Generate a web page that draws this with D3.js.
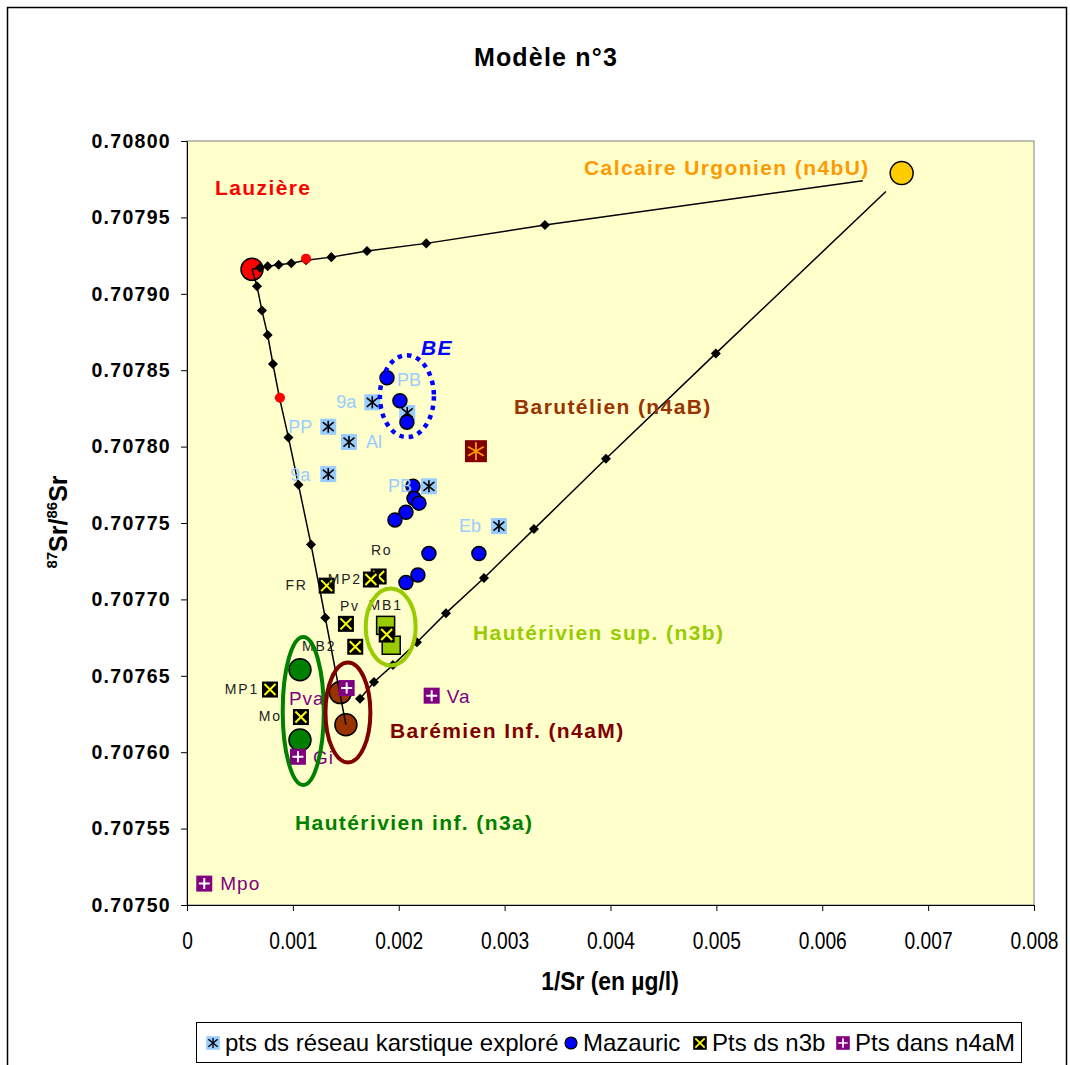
<!DOCTYPE html>
<html><head><meta charset="utf-8">
<script src="https://cdn.jsdelivr.net/npm/d3@7/dist/d3.min.js"></script>
<style>body{margin:0;background:#fff}</style>
</head><body>
<svg id="chart" width="1070" height="1065"></svg>
<script>
// ---------- DATA ----------
const xTickValues = [0,0.001,0.002,0.003,0.004,0.005,0.006,0.007,0.008];
const xTickLabels = ["0","0.001","0.002","0.003","0.004","0.005","0.006","0.007","0.008"];
const yTickValues = [0.7075,0.70755,0.7076,0.70765,0.7077,0.70775,0.7078,0.70785,0.7079,0.70795,0.708];
const yTickLabels = ["0.70750","0.70755","0.70760","0.70765","0.70770","0.70775","0.70780","0.70785","0.70790","0.70795","0.70800"];

// end members
const lauziere   = [[0.000614,0.707916]];
const urgonien   = [[0.00675,0.707979]];
const barutelien = [[0.002729,0.707797]];
const hautInf    = [[0.001067,0.707654],[0.001067,0.707608]];
const hautSup    = [[0.001876,0.707683],[0.001929,0.707670]];
const baremien   = [[0.001448,0.707639],[0.001501,0.707618]];
const redDots    = [[0.001124,0.707923],[0.000878,0.707832]];

// mixing lines
const mixLauzUrg = [[0.000614,0.707916],[0.000689,0.707917],[0.000762,0.707918],[0.000866,0.707919],[0.000985,0.707920],[0.001124,0.707922],[0.001363,0.707924],[0.001700,0.707928],[0.002260,0.707933],[0.003381,0.707945],[0.006383,0.707974]];
const mixLauzBar = [[0.000614,0.707916],[0.000661,0.707905],[0.000708,0.707889],[0.000762,0.707873],[0.000812,0.707854],[0.000873,0.707832],[0.000958,0.707806],[0.001053,0.707775],[0.001171,0.707736],[0.001306,0.707688],[0.001501,0.707618]];
const mixBarUrg  = [[0.001634,0.707635],[0.001766,0.707646],[0.001945,0.707657],[0.002172,0.707672],[0.002446,0.707691],[0.002805,0.707714],[0.003277,0.707746],[0.003957,0.707792],[0.004995,0.707861],[0.006601,0.707967]];

// samples
const karstNames = ["9a","","PP","Al","9a","PB","Eb"];
const karstX = [0.001750,0.002080,0.001334,0.001530,0.001334,0.002285,0.002946];
const karstY = [0.707829,0.707822,0.707813,0.707803,0.707782,0.707774,0.707748];

const mazX = [0.001889,0.002011,0.002077,0.002134,0.002144,0.002191,0.002068,0.001964,0.002285,0.002757,0.002181,0.002068];
const mazY = [0.707845,0.707830,0.707816,0.707774,0.707766,0.707763,0.707757,0.707752,0.707730,0.707730,0.707716,0.707711];
const mazNames = ["PB","","","","","","","","","","",""];

const n3bNames = ["Ro","MP2","FR","Pv","MB1","MB2","MP1","Mo"];
const n3bX = [0.001810,0.001737,0.001319,0.001501,0.001886,0.001589,0.000784,0.001076];
const n3bY = [0.707715,0.707713,0.707709,0.707684,0.707677,0.707669,0.707641,0.707623];

const n4aMNames = ["Pva","Va","Gi","Mpo"];
const n4aMX = [0.001508,0.002311,0.001048,0.000163];
const n4aMY = [0.707642,0.707637,0.707597,0.707514];

// enclosing ellipses [cx, cy, rx, ry] in data units
const ellipseBE      = [0.002077,0.707833,0.000255,0.0000268];
const ellipseHautSup = [0.001924,0.707682,0.000236,0.0000252];
const ellipseHautInf = [0.001098,0.707627,0.000194,0.0000484];
const ellipseBarem   = [0.001520,0.707626,0.000212,0.0000327];

const legendLabels = ["pts ds réseau karstique exploré","Mazauric","Pts ds n3b","Pts dans n4aM"];

// ---------- DRAW ----------
const svg = d3.select("#chart");
const ARIAL = "'Liberation Sans', Arial, sans-serif";
const L = 187, R = 1034, T = 141, B = 905;
const x = d3.scaleLinear().domain([0,0.008]).range([L,R]);
const y = d3.scaleLinear().domain([0.7075,0.708]).range([B,T]);

// outer frame
svg.append("rect").attr("x",7.5).attr("y",7.5).attr("width",1059).attr("height",1070)
  .attr("fill","#fff").attr("stroke","#000").attr("stroke-width",1.5);

// plot area
svg.append("rect").attr("x",L).attr("y",T).attr("width",R-L).attr("height",B-T)
  .attr("fill","#ffffcc").attr("stroke","#808080").attr("stroke-width",1);

// title
svg.append("text").attr("x",546).attr("y",66).attr("text-anchor","middle")
  .attr("font-family",ARIAL).attr("font-weight","bold").attr("font-size",25)
  .attr("letter-spacing",1.2).text("Modèle n°3");

// axes
const xAxis = d3.axisBottom(x).tickValues(xTickValues).tickFormat((d,i)=>xTickLabels[i]).tickSize(6).tickSizeOuter(0);
const gx = svg.append("g").attr("transform",`translate(0,${B})`).call(xAxis);
gx.attr("font-size",null).attr("font-family",null);
gx.selectAll("text").style("font-family",ARIAL).style("font-size","24px").attr("fill","#000")
  .attr("y",0).attr("dy",0).attr("transform","translate(0,44) scale(0.8,1)");
gx.select(".domain").attr("stroke","#000");

const yAxis = d3.axisLeft(y).tickValues(yTickValues).tickFormat((d,i)=>yTickLabels[i]).tickSize(6).tickSizeOuter(0);
const gy = svg.append("g").attr("transform",`translate(${L},0)`).call(yAxis);
gy.selectAll("text").attr("font-family",ARIAL).attr("font-weight","bold").attr("font-size",19.5)
  .attr("letter-spacing",1.3).attr("fill","#000").attr("x",-16);
gy.select(".domain").attr("stroke","#000");

// axis titles
svg.append("text").attr("text-anchor","middle")
  .attr("transform","translate(610,990) scale(0.88,1)")
  .attr("font-family",ARIAL).attr("font-weight","bold").attr("font-size",26).text("1/Sr (en µg/l)");
const yt = svg.append("text").attr("transform","translate(67,522) rotate(-90)").attr("text-anchor","middle")
  .attr("font-family",ARIAL).attr("font-weight","bold").attr("font-size",25);
yt.append("tspan").attr("font-size",15).attr("dy",-10).text("87");
yt.append("tspan").attr("dy",10).text("Sr/");
yt.append("tspan").attr("font-size",15).attr("dy",-10).text("86");
yt.append("tspan").attr("dy",10).text("Sr");

const plot = svg.append("g");

// end member circles
function circles(data, r, fill) {
  plot.selectAll(null).data(data).enter().append("circle")
    .attr("cx",d=>x(d[0])).attr("cy",d=>y(d[1])).attr("r",r)
    .attr("fill",fill).attr("stroke","#000").attr("stroke-width",1.5);
}
circles(lauziere,11,"#ff0000");
circles(urgonien,11.5,"#ffcc00");
circles(hautInf,11,"#008000");
circles(baremien,11,"#993300");

// mixing lines with diamonds
const line = d3.line().x(d=>x(d[0])).y(d=>y(d[1]));
function mixing(data, marks) {
  plot.append("path").datum(data).attr("d",line).attr("fill","none").attr("stroke","#000").attr("stroke-width",1.5);
  plot.selectAll(null).data(marks).enter().append("path")
    .attr("d",d3.symbol(d3.symbolDiamond2 || d3.symbolDiamond, 64)())
    .attr("transform",d=>`translate(${x(d[0])},${y(d[1])})`)
    .attr("fill","#000");
}
mixing(mixLauzUrg, mixLauzUrg.slice(1,-1));
mixing(mixLauzBar, mixLauzBar.slice(1,-1));
mixing(mixBarUrg, mixBarUrg.slice(0,-1));

// red dots
plot.selectAll(null).data(redDots).enter().append("circle")
  .attr("cx",d=>x(d[0])).attr("cy",d=>y(d[1])).attr("r",5).attr("fill","#ff0000");

// marker helpers
function starMarker(g, s, color, w) {
  g.append("line").attr("x1",0).attr("y1",-s).attr("x2",0).attr("y2",s).attr("stroke",color).attr("stroke-width",w);
  g.append("line").attr("x1",-s*0.87).attr("y1",-s*0.5).attr("x2",s*0.87).attr("y2",s*0.5).attr("stroke",color).attr("stroke-width",w);
  g.append("line").attr("x1",-s*0.87).attr("y1",s*0.5).attr("x2",s*0.87).attr("y2",-s*0.5).attr("stroke",color).attr("stroke-width",w);
}
function karstMarker(g) {
  g.append("rect").attr("x",-8).attr("y",-8).attr("width",16).attr("height",16).attr("fill","#99ccff");
  g.append("line").attr("x1",0).attr("y1",-6).attr("x2",0).attr("y2",6).attr("stroke","#000").attr("stroke-width",1.6);
  g.append("line").attr("x1",-5.5).attr("y1",-4.5).attr("x2",5.5).attr("y2",4.5).attr("stroke","#000").attr("stroke-width",1.6);
  g.append("line").attr("x1",-5.5).attr("y1",4.5).attr("x2",5.5).attr("y2",-4.5).attr("stroke","#000").attr("stroke-width",1.6);
}
function mazMarker(g) {
  g.append("circle").attr("r",7).attr("fill","#0000ff").attr("stroke","#000").attr("stroke-width",1.5);
}
function n3bMarker(g) {
  g.append("rect").attr("x",-8).attr("y",-8).attr("width",16).attr("height",16).attr("fill","#000");
  g.append("path").attr("d","M-5.5,-5.5L5.5,5.5M-5.5,5.5L5.5,-5.5").attr("stroke","#ffff00").attr("stroke-width",2);
}
function n4aMMarker(g) {
  g.append("rect").attr("x",-8).attr("y",-8).attr("width",16).attr("height",16).attr("fill","#800080");
  g.append("path").attr("d","M0,-5.5V5.5M-5.5,0H5.5").attr("stroke","#ffffff").attr("stroke-width",2);
}

// karst points
karstX.forEach((vx,i)=>{
  const g = plot.append("g").attr("transform",`translate(${x(vx)},${y(karstY[i])})`);
  karstMarker(g);
});
// Mazauric
mazX.forEach((vx,i)=>{
  const g = plot.append("g").attr("transform",`translate(${x(vx)},${y(mazY[i])})`);
  mazMarker(g);
});
// Hauterivien sup squares
plot.selectAll(null).data(hautSup).enter().append("rect")
  .attr("x",d=>x(d[0])-9).attr("y",d=>y(d[1])-9).attr("width",18).attr("height",18)
  .attr("fill","#99cc00").attr("stroke","#000").attr("stroke-width",1.5);
// n3b
n3bX.forEach((vx,i)=>{
  const g = plot.append("g").attr("transform",`translate(${x(vx)},${y(n3bY[i])})`);
  n3bMarker(g);
});
// n4aM
n4aMX.forEach((vx,i)=>{
  const g = plot.append("g").attr("transform",`translate(${x(vx)},${y(n4aMY[i])})`);
  n4aMMarker(g);
});
// Barutelien
barutelien.forEach(d=>{
  const g = plot.append("g").attr("transform",`translate(${x(d[0])},${y(d[1])})`);
  g.append("rect").attr("x",-11).attr("y",-11).attr("width",22).attr("height",22).attr("fill","#800000");
  starMarker(g, 9, "#ff9900", 1.8);
});

// point labels (offsets in px)
const karstOff = [[-16,6,"end"],null,[-16,6,"end"],[17,6,"start"],[-18,7,"end"],[-17,6,"end"],[-18,6,"end"]];
karstNames.forEach((n,i)=>{
  if(!n) return; const o = karstOff[i];
  plot.append("text").attr("x",x(karstX[i])+o[0]).attr("y",y(karstY[i])+o[1]).attr("text-anchor",o[2])
    .attr("font-family",ARIAL).attr("font-size",18).attr("fill","#99ccff").text(n);
});
mazNames.forEach((n,i)=>{
  if(!n) return;
  plot.append("text").attr("x",x(mazX[i])+10).attr("y",y(mazY[i])+8).attr("text-anchor","start")
    .attr("font-family",ARIAL).attr("font-size",18).attr("fill","#99ccff").text(n);
});
const n3bOff = [[3,-21,"middle"],[-9,4,"end"],[-19,4,"end"],[4,-13,"middle"],[-1,-25,"middle"],[-19,4,"end"],[-11,4,"end"],[-19,4,"end"]];
n3bNames.forEach((n,i)=>{
  const o = n3bOff[i];
  plot.append("text").attr("x",x(n3bX[i])+o[0]).attr("y",y(n3bY[i])+o[1]).attr("text-anchor",o[2])
    .attr("font-family",ARIAL).attr("font-size",14).attr("letter-spacing",1.8).attr("fill","#222").text(n);
});
const n4aMOff = [[-22,17,"end"],[15,7,"start"],[15,7,"start"],[16,6,"start"]];
n4aMNames.forEach((n,i)=>{
  const o = n4aMOff[i];
  plot.append("text").attr("x",x(n4aMX[i])+o[0]).attr("y",y(n4aMY[i])+o[1]).attr("text-anchor",o[2])
    .attr("font-family",ARIAL).attr("font-size",19).attr("letter-spacing",1).attr("fill","#800080").text(n);
});

// ellipses
function ell(e, color, w, dash) {
  const cx = x(e[0]), cy = y(e[1]);
  const rx = x(e[0]+e[2]) - cx, ry = cy - y(e[1]+e[3]);
  const el = plot.append("ellipse").attr("cx",cx).attr("cy",cy).attr("rx",rx).attr("ry",ry)
    .attr("fill","none").attr("stroke",color).attr("stroke-width",w);
  if (dash) el.attr("stroke-dasharray",dash);
}
ell(ellipseBE,"#0000ff",4.5,"4.5,5");
ell(ellipseHautSup,"#99cc00",4);
ell(ellipseHautInf,"#008000",4);
ell(ellipseBarem,"#800000",4);

// region labels
function region(txt, px, py, color, italic) {
  svg.append("text").attr("x",px).attr("y",py).attr("font-family",ARIAL).attr("font-weight","bold")
    .attr("font-size",21).attr("letter-spacing",1.4).attr("fill",color)
    .attr("font-style",italic?"italic":"normal").text(txt);
}
region("Lauzière",215,195,"#ff0000");
region("Calcaire Urgonien (n4bU)",584,175,"#ff9900");
region("BE",421,355,"#0000ff",true);
region("Barutélien (n4aB)",514,414,"#993300");
region("Hautérivien sup. (n3b)",473,640,"#99cc00");
region("Barémien Inf. (n4aM)",390,738,"#800000");
region("Hautérivien inf. (n3a)",295,830,"#008000");

// legend
const lg = svg.append("g");
lg.append("rect").attr("x",196.5).attr("y",1022.5).attr("width",825).attr("height",40)
  .attr("fill","#fff").attr("stroke","#000").attr("stroke-width",1);
const legX = [213,571,700,843];
const legMarkers = [karstMarker, mazMarker, n3bMarker, n4aMMarker];
legendLabels.forEach((t,i)=>{
  const g = lg.append("g").attr("transform",`translate(${legX[i]},1043) scale(0.85)`);
  legMarkers[i](g);
  lg.append("text").attr("x",legX[i]+12).attr("y",1051).attr("font-family",ARIAL)
    .attr("font-size",24).attr("fill","#000").text(t);
});
</script>
</body></html>
